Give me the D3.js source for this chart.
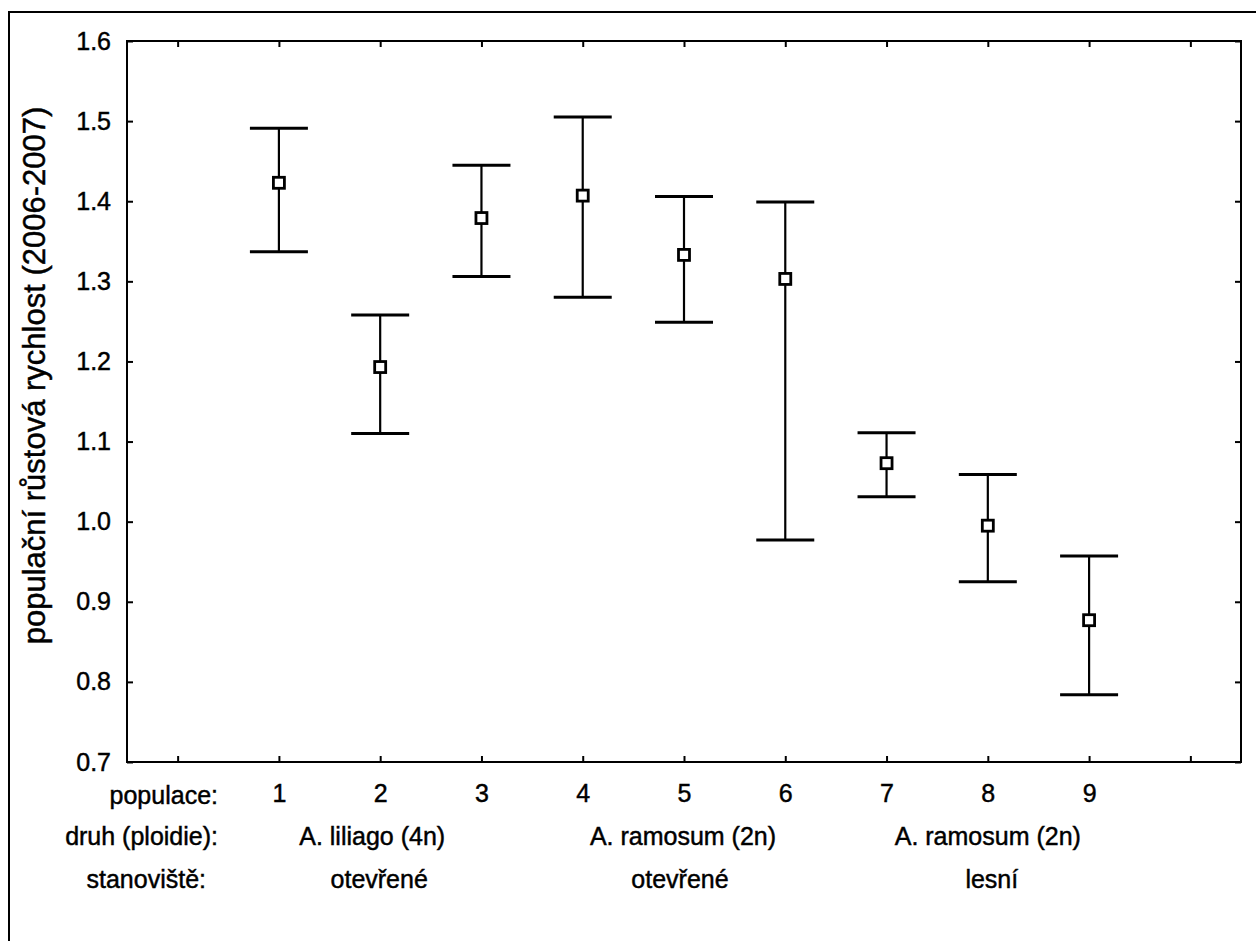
<!DOCTYPE html>
<html>
<head>
<meta charset="utf-8">
<script src="https://cdn.jsdelivr.net/npm/d3@7"></script>
<style>
  html, body { margin: 0; padding: 0; background: #fff; }
  svg { display: block; }
  text { font-family: "Liberation Sans", Arial, sans-serif; fill: #000; stroke: #000; stroke-width: 0.45px; }
</style>
</head>
<body>
<svg id="chart" width="1256" height="941"></svg>
<script>
// ---- data ----
const populations = [1, 2, 3, 4, 5, 6, 7, 8, 9];
const means = [1.423, 1.193, 1.379, 1.407, 1.333, 1.303, 1.073, 0.995, 0.877];
const upper = [1.491, 1.258, 1.445, 1.505, 1.406, 1.399, 1.111, 1.059, 0.957];
const lower = [1.337, 1.110, 1.306, 1.280, 1.249, 0.977, 1.031, 0.925, 0.784];
const yTicks = [0.7, 0.8, 0.9, 1.0, 1.1, 1.2, 1.3, 1.4, 1.5, 1.6];
const xTicks = [0, 1, 2, 3, 4, 5, 6, 7, 8, 9, 10];
const yTitle = "populační růstová rychlost (2006-2007)";
const rowLabels = ["populace:", "druh (ploidie):", "stanoviště:"];
const speciesGroups = ["A. liliago (4n)", "A. ramosum (2n)", "A. ramosum (2n)"];
const habitatGroups = ["otevřené", "otevřené", "lesní"];
const groupCenters = [2, 5, 8];

// ---- layout ----
const svg = d3.select("#chart");
const plot = { left: 127, top: 41, right: 1241, bottom: 762 };

const x = d3.scaleLinear().domain([-0.5, 10.5]).range([plot.left, plot.right]);
const y = d3.scaleLinear().domain([0.7, 1.6]).range([plot.bottom, plot.top]);

// outer frame (cropped on right/bottom)
svg.append("path")
  .attr("d", `M9,945 L9,12 L1260,12`)
  .attr("fill", "none").attr("stroke", "#000").attr("stroke-width", 2);

// plot box
svg.append("rect")
  .attr("x", plot.left).attr("y", plot.top)
  .attr("width", plot.right - plot.left).attr("height", plot.bottom - plot.top)
  .attr("fill", "none").attr("stroke", "#000").attr("stroke-width", 2);

const tickLen = 6;
const fmt = d3.format(".1f");

// left axis
const gL = svg.append("g").attr("transform", `translate(${plot.left},0)`)
  .call(d3.axisLeft(y).tickValues(yTicks).tickFormat(fmt).tickSizeInner(-tickLen).tickSizeOuter(0).tickPadding(16));
gL.select(".domain").remove();
gL.selectAll("line").attr("stroke-width", 2);
gL.selectAll("text").style("font-size", "25px").style("font-family", "Liberation Sans, Arial, sans-serif");

// right axis ticks
const gR = svg.append("g").attr("transform", `translate(${plot.right},0)`)
  .call(d3.axisRight(y).tickValues(yTicks).tickFormat("").tickSizeInner(-tickLen).tickSizeOuter(0));
gR.select(".domain").remove();
gR.selectAll("line").attr("stroke-width", 2);

// top axis ticks
const gT = svg.append("g").attr("transform", `translate(0,${plot.top})`)
  .call(d3.axisTop(x).tickValues(xTicks).tickFormat("").tickSizeInner(-tickLen).tickSizeOuter(0));
gT.select(".domain").remove();
gT.selectAll("line").attr("stroke-width", 2);

// bottom axis ticks + labels
const gB = svg.append("g").attr("transform", `translate(0,${plot.bottom})`)
  .call(d3.axisBottom(x).tickValues(xTicks)
    .tickFormat(d => populations.includes(d) ? String(d) : "")
    .tickSizeInner(-tickLen).tickSizeOuter(0).tickPadding(22));
gB.select(".domain").remove();
gB.selectAll("line").attr("stroke-width", 2);
gB.selectAll("text").style("font-size", "25px").style("font-family", "Liberation Sans, Arial, sans-serif");

// y title
svg.append("text")
  .attr("transform", `translate(45,${(plot.top + plot.bottom) / 2 - 26}) rotate(-90)`)
  .attr("text-anchor", "middle")
  .style("font-size", "31px")
  .text(yTitle);

// row labels
const rowY = [804, 845, 888];
const rowRight = [218, 218, 206];
svg.selectAll(".rowlab").data(rowLabels).enter().append("text")
  .attr("class", "rowlab")
  .attr("x", (d, i) => rowRight[i]).attr("y", (d, i) => rowY[i])
  .attr("text-anchor", "end").style("font-size", "25px").text(d => d);

svg.selectAll(".sp").data(speciesGroups).enter().append("text")
  .attr("class", "sp")
  .attr("x", (d, i) => x(groupCenters[i]) + [-8, -1, 0][i]).attr("y", rowY[1])
  .attr("text-anchor", "middle").style("font-size", "25px").text(d => d);

svg.selectAll(".hab").data(habitatGroups).enter().append("text")
  .attr("class", "hab")
  .attr("x", (d, i) => x(groupCenters[i]) + [-1, -4, 4][i]).attr("y", rowY[2])
  .attr("text-anchor", "middle").style("font-size", "25px").text(d => d);

// error bars
const capHalf = 29;
const bars = svg.append("g");
populations.forEach((p, i) => {
  const cx = x(p);
  bars.append("line").attr("x1", cx).attr("x2", cx)
    .attr("y1", y(upper[i])).attr("y2", y(lower[i]))
    .attr("stroke", "#000").attr("stroke-width", 2.2);
  [upper[i], lower[i]].forEach(v => {
    bars.append("line").attr("x1", cx - capHalf).attr("x2", cx + capHalf)
      .attr("y1", y(v)).attr("y2", y(v))
      .attr("stroke", "#000").attr("stroke-width", 3);
  });
  bars.append("rect")
    .attr("x", cx - 5.5).attr("y", y(means[i]) - 5.5)
    .attr("width", 11).attr("height", 11)
    .attr("fill", "#fff").attr("stroke", "#000").attr("stroke-width", 2.8);
});
</script>
</body>
</html>
